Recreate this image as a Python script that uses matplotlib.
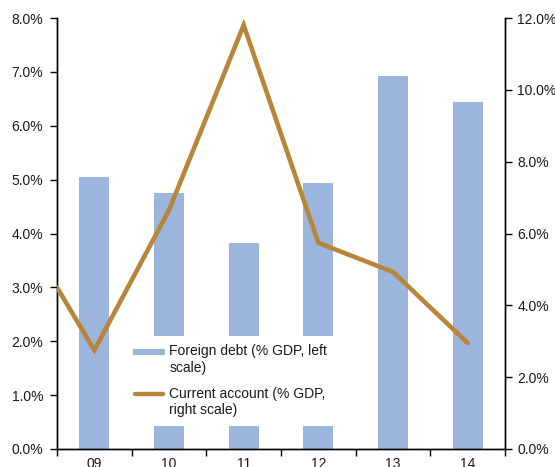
import matplotlib.pyplot as plt
import numpy as np
from matplotlib.patches import Rectangle
from matplotlib.lines import Line2D

plt.rcParams['font.family'] = ['Liberation Sans', 'DejaVu Sans']
plt.rcParams['font.size'] = 10

# data
years = ['09', '10', '11', '12', '13', '14']
debt = [5.05, 4.75, 3.82, 4.93, 6.92, 6.45]          # % GDP, left scale
ca_x = [-0.5, 0, 1, 2, 3, 4, 5]
ca = [4.5, 2.75, 6.65, 11.8, 5.74, 4.93, 2.95]      # % GDP, right scale

bar_col = '#9BB5DD'
line_col = '#B8863A'
txt_col = '#1a1a1a'


class FirstLineHandler:
    # legend handle aligned with first line of a 2-line label
    def __init__(self, kind):
        self.kind = kind

    def legend_artist(self, legend, orig_handle, fontsize, handlebox):
        x0 = -handlebox.xdescent
        w = handlebox.width
        y0 = -handlebox.ydescent + handlebox.height / 2 + 0.6 * fontsize
        tr = handlebox.get_transform()
        if self.kind == 'bar':
            art = Rectangle((x0, y0 - 2.0), w, 4.0, facecolor=bar_col,
                            edgecolor='none', transform=tr)
        else:
            art = Line2D([x0 + 1.5, x0 + w - 1.5], [y0, y0], color=line_col, lw=3.2,
                         solid_capstyle='round', transform=tr)
        handlebox.add_artist(art)
        return art


fig = plt.figure(figsize=(5.55, 4.67), dpi=100)
ax1 = fig.add_axes([57/555, 18/467, 448/555, 431/467])
ax2 = ax1.twinx()

x = np.arange(len(years))
bars = ax1.bar(x, debt, width=0.4, color=bar_col, zorder=2)
ln, = ax2.plot(ca_x, ca, color=line_col, lw=3.3, solid_joinstyle='miter',
               solid_capstyle='round', zorder=3)

ax1.set_xlim(-0.5, 5.5)
ax1.set_ylim(0, 8)
ax2.set_ylim(0, 12)
ax1.set_yticks(np.arange(0, 8.1, 1))
ax1.set_yticklabels([f'{v:.1f}%' for v in np.arange(0, 8.1, 1)])
ax2.set_yticks(np.arange(0, 12.1, 2))
ax2.set_yticklabels([f'{v:.1f}%' for v in np.arange(0, 12.1, 2)])

ax1.set_xticks(x)
ax1.set_xticklabels(years)
ax1.set_xticks(np.arange(-0.5, 5.6, 1), minor=True)
ax1.tick_params(axis='x', which='major', length=0, pad=6, colors=txt_col)
ax1.tick_params(axis='x', which='minor', length=5, width=1, direction='out')
ax1.tick_params(axis='y', length=5, width=1, pad=5, colors=txt_col)
ax2.tick_params(axis='y', length=5, width=1, pad=4, colors=txt_col)
for a in (ax1, ax2):
    a.spines['top'].set_visible(False)
    for s in ('left', 'right', 'bottom'):
        a.spines[s].set_linewidth(1)
        a.spines[s].set_color('black')
    a.tick_params(color='black')

leg = ax1.legend([bars, ln],
                 ['Foreign debt (% GDP, left\nscale)',
                  'Current account (% GDP,\nright scale)'],
                 handler_map={bars: FirstLineHandler('bar'), ln: FirstLineHandler('line')},
                 loc='upper left', bbox_to_anchor=(125/555, 1 - 336/467),
                 bbox_transform=fig.transFigure, frameon=True, fancybox=False,
                 facecolor='white', edgecolor='none', framealpha=1,
                 borderpad=0.6, borderaxespad=0, handlelength=2.3,
                 handletextpad=0.3, labelspacing=0.9, fontsize=10)
leg.set_zorder(5)
for t in leg.get_texts():
    t.set_color(txt_col)

fig.savefig('out.png', dpi=100)
